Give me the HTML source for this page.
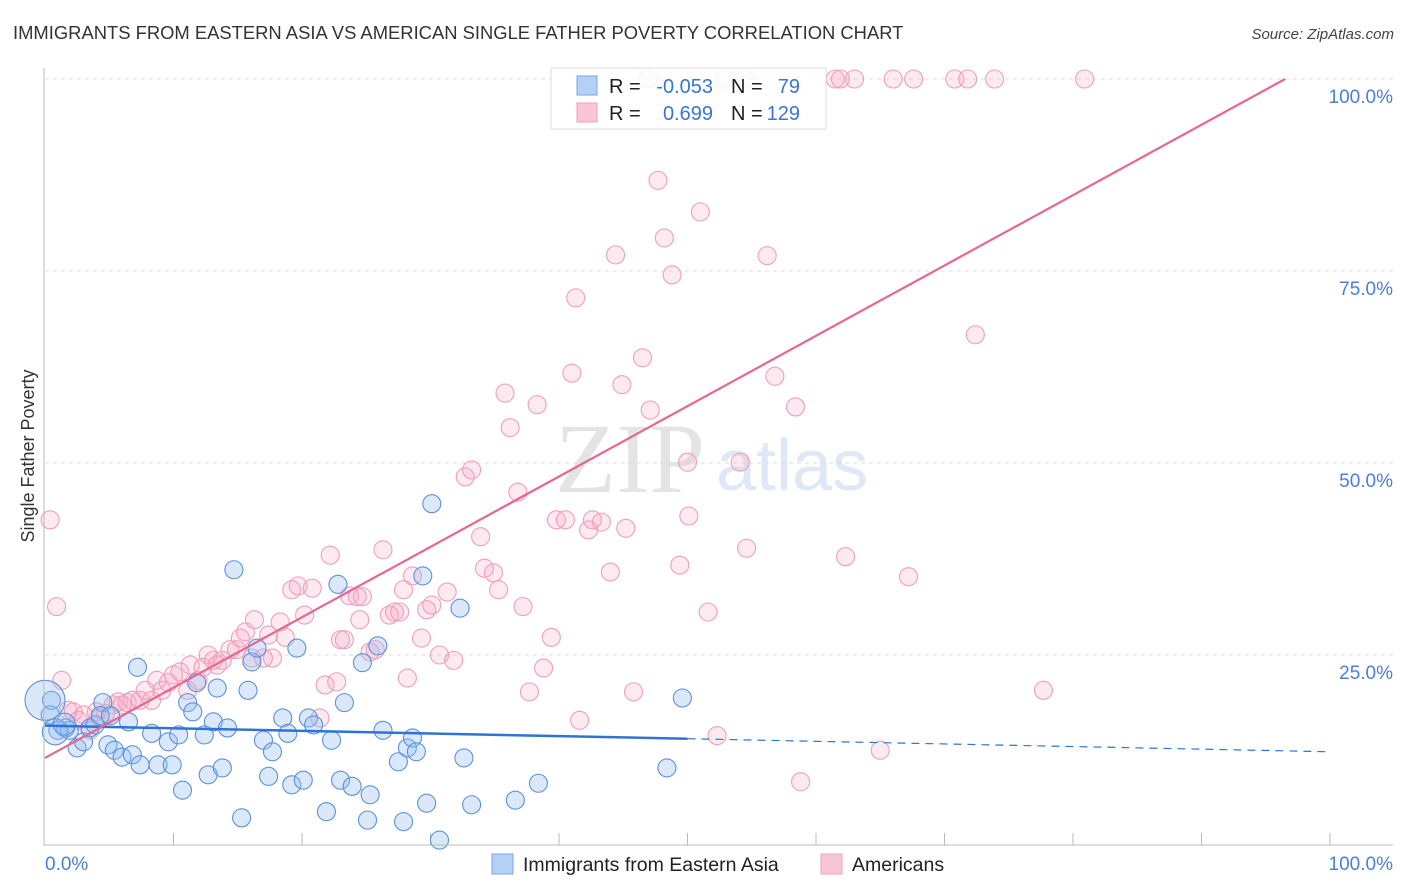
<!DOCTYPE html>
<html><head><meta charset="utf-8"><style>
body{margin:0;background:#fff;font-family:"Liberation Sans",sans-serif;}
#wrap{position:relative;width:1406px;height:892px;overflow:hidden;}
</style></head><body><div id="wrap">
<svg id="svg" width="1406" height="892" xmlns="http://www.w3.org/2000/svg">
<text x="13" y="39" font-size="18.4" fill="#333">IMMIGRANTS FROM EASTERN ASIA VS AMERICAN SINGLE FATHER POVERTY CORRELATION CHART</text>
<text x="1394" y="39" font-size="15" fill="#444" font-style="italic" text-anchor="end">Source: ZipAtlas.com</text>
<text x="555" y="492" font-size="100" fill="#e4e4e4" font-family="Liberation Serif,serif">ZIP</text>
<text x="716" y="490" font-size="72" fill="#dfe8f6">atlas</text>
<text transform="translate(34,456) rotate(-90)" font-size="18" fill="#333" text-anchor="middle">Single Father Poverty</text>
<g id="grid"></g><g id="marks"></g><g id="lines"></g>
<line x1="44" y1="68" x2="44" y2="846" stroke="#bbb"/>
<line x1="44" y1="845" x2="1393" y2="845" stroke="#bbb"/>
<text x="45" y="870" font-size="19" fill="#4a7fd6">0.0%</text>
<text x="1393" y="870" font-size="19" fill="#4a7fd6" text-anchor="end">100.0%</text>
<g>
<rect x="551" y="68" width="275" height="61" fill="#fff" fill-opacity="0.85" stroke="#ddd"/>
<rect x="577" y="76" width="20" height="19" fill="#b5d0f5" stroke="#7aa6e6"/>
<rect x="577" y="103" width="20" height="19" fill="#f9c6d6" stroke="#eea0bb"/>
<text x="609" y="93" font-size="20" fill="#222">R =</text><text x="713" y="93" font-size="20" fill="#3a74d4" text-anchor="end">-0.053</text>
<text x="731" y="93" font-size="20" fill="#222">N =</text><text x="800" y="93" font-size="20" fill="#3a74d4" text-anchor="end">79</text>
<text x="609" y="120" font-size="20" fill="#222">R =</text><text x="713" y="120" font-size="20" fill="#3a74d4" text-anchor="end">0.699</text>
<text x="731" y="120" font-size="20" fill="#222">N =</text><text x="800" y="120" font-size="20" fill="#3a74d4" text-anchor="end">129</text>
</g>
<g><rect x="492" y="854" width="21" height="20" fill="#b5d0f5" stroke="#7aa6e6"/><text x="523" y="871" font-size="19.5" fill="#222">Immigrants from Eastern Asia</text></g>
<g><rect x="821" y="854" width="21" height="20" fill="#f9c6d6" stroke="#eea0bb"/><text x="852" y="871" font-size="19.5" fill="#222">Americans</text></g>
</svg>
<script>
const yTicks=[25,50,75,100];
const yTickLabels=["25.0%","50.0%","75.0%","100.0%"];
const xTicks=[10,20,30,40,50,60,70,80,90,100];
const blueX=[0.5,0.4,1.0,1.6,1.9,2.5,3.0,3.5,3.9,4.5,4.3,5.1,4.9,5.4,6.0,6.5,6.8,7.2,7.4,8.3,8.8,9.6,9.9,10.4,10.7,11.1,11.5,11.8,12.4,12.7,13.1,13.4,13.8,14.2,14.7,15.3,15.8,16.1,16.5,17.0,17.4,17.7,18.5,18.9,19.2,19.6,20.1,20.5,20.9,21.9,22.3,22.8,23.0,23.3,23.9,24.7,25.1,25.3,25.9,26.3,27.5,27.9,28.2,28.6,28.9,29.4,29.7,30.1,30.7,32.3,32.6,33.2,36.6,38.4,48.4,49.6,0.0,0.8,1.5];
const blueY=[19.1,17.2,15.2,15.5,15.2,12.9,13.7,15.5,15.9,18.8,17.1,17.1,13.3,12.6,11.7,16.3,12.0,23.4,10.7,14.8,10.7,13.7,10.7,14.6,7.4,18.8,17.6,21.4,14.6,9.4,16.3,20.7,10.3,15.5,36.1,3.8,20.4,24.1,25.9,13.9,9.2,12.4,16.8,14.8,8.1,25.9,8.7,16.8,15.9,4.6,13.9,34.2,8.7,18.8,7.9,24.0,3.5,6.8,26.2,15.2,11.1,3.3,12.9,14.2,12.4,35.3,5.7,44.7,0.9,31.1,11.6,5.5,6.1,8.3,10.3,19.4,19.1,15.0,16.0];
const blueR=[9,9,9,9,9,9,9,9,9,9,9,9,9,9,9,9,9,9,9,9,9,9,9,9,9,9,9,9,9,9,9,9,9,9,9,9,9,9,9,9,9,9,9,9,9,9,9,9,9,9,9,9,9,9,9,9,9,9,9,9,9,9,9,9,9,9,9,9,9,9,9,9,9,9,9,9,20,13,11];
const pinkX=[0.4,0.9,1.3,1.8,2.2,2.6,3.0,3.5,4.0,4.3,4.7,5.3,5.7,6.0,6.4,6.8,7.4,7.8,8.3,8.7,9.1,9.6,10.0,10.5,11.1,11.3,11.9,12.3,12.7,13.1,13.4,13.8,14.4,14.9,15.2,15.6,16.1,16.3,17.0,17.4,17.7,18.3,18.7,19.2,19.7,20.2,20.8,21.4,21.8,22.2,22.7,23.0,23.3,23.7,24.3,24.5,24.7,25.3,25.7,26.3,26.8,27.2,27.6,27.9,28.2,28.6,29.3,29.7,30.1,30.7,31.3,31.8,32.7,33.2,33.9,34.2,34.9,35.3,35.8,36.2,36.8,37.2,37.7,38.3,38.8,39.4,39.8,40.5,41.0,41.3,41.6,42.3,42.6,43.3,44.0,44.4,44.9,45.2,45.8,46.5,47.1,47.7,48.2,48.8,49.4,50.0,50.1,51.0,51.6,52.3,54.1,54.6,56.2,56.8,58.4,58.8,62.3,65.0,67.2,72.4,77.7,46.9,52.9,54.5,61.5,61.9,63.0,66.0,67.6,70.8,71.8,73.9,80.9];
const pinkY=[42.6,31.3,21.7,17.8,17.6,16.5,17.2,15.2,17.6,16.8,17.4,18.5,18.9,18.5,18.8,19.1,19.1,20.4,19.1,21.7,20.4,21.4,22.4,22.8,20.4,23.7,21.7,23.4,25.0,24.3,23.7,24.3,25.7,25.7,27.2,28.0,24.6,29.6,24.6,27.6,24.6,29.3,27.3,33.5,34.0,30.2,33.7,16.8,21.1,38.0,21.5,27.0,27.0,32.7,32.6,29.6,32.6,25.4,25.7,38.7,30.2,30.6,30.6,33.5,22.0,35.3,27.2,30.9,31.5,25.0,33.2,24.3,48.2,49.1,40.4,36.3,35.7,33.5,59.1,54.6,46.2,31.3,20.2,57.6,23.3,27.3,42.6,42.6,61.7,71.5,16.5,41.3,42.6,42.3,35.8,77.1,60.2,41.5,20.2,63.7,56.9,86.8,79.3,74.5,36.7,50.1,43.1,82.7,30.6,14.5,50.1,38.9,77.0,61.3,57.3,8.5,37.8,12.6,35.2,66.7,20.4,100,100,100,100,100,100,100,100,100,100,100,100];
const blueTrend=[15.8,12.4];
const pinkTrend=[11.6,103.2];
const NS="http://www.w3.org/2000/svg";
function xs(v){return 45+v*12.85;}
function ys(v){return 847-v*7.68;}
function mk(tag,attrs,parent){const e=document.createElementNS(NS,tag);for(const k in attrs)e.setAttribute(k,attrs[k]);document.getElementById(parent).appendChild(e);return e;}
yTicks.forEach((t,i)=>{
 const l=mk('line',{x1:45,x2:1393,y1:ys(t),y2:ys(t),stroke:'#ddd','stroke-dasharray':'4,4'},'grid');
 
 
 const tx=mk('text',{x:1393,y:ys(t)+24,'font-size':19,fill:'#4a7fd6','text-anchor':'end'},'grid');
 tx.textContent=yTickLabels[i];
 
 
});
xTicks.forEach(t=>{
 const l=mk('line',{x1:xs(t),x2:xs(t),y1:833,y2:845,stroke:'#bbb'},'grid');
 
 
});
pinkX.forEach((x,i)=>{
 const c=mk('circle',{cx:xs(x),cy:ys(pinkY[i]),r:9,fill:'rgba(246,168,194,0.25)',stroke:'#ef9fbb','stroke-width':1.1},'marks');
 
 
});
blueX.forEach((x,i)=>{
 const c=mk('circle',{cx:xs(x),cy:ys(blueY[i]),r:blueR[i],fill:'rgba(150,190,240,0.35)',stroke:'#5b92dc','stroke-width':1.1},'marks');
 
 
});
const bAt=x=>blueTrend[0]+(blueTrend[1]-blueTrend[0])*x/100;
const b1=mk('line',{x1:xs(0),y1:ys(bAt(0)),x2:xs(50),y2:ys(bAt(50)),stroke:'#2e74d6','stroke-width':2.5},'lines');


const b2=mk('line',{x1:xs(50),y1:ys(bAt(50)),x2:xs(100),y2:ys(bAt(100)),stroke:'#2e74d6','stroke-width':1.2,'stroke-dasharray':'8,6'},'lines');


const pEndX=(100-pinkTrend[0])/(pinkTrend[1]-pinkTrend[0])*100;
const p1=mk('line',{x1:xs(0),y1:ys(pinkTrend[0]),x2:xs(pEndX),y2:ys(100),stroke:'#e8668f','stroke-width':2.2},'lines');


</script>
</div></body></html>
